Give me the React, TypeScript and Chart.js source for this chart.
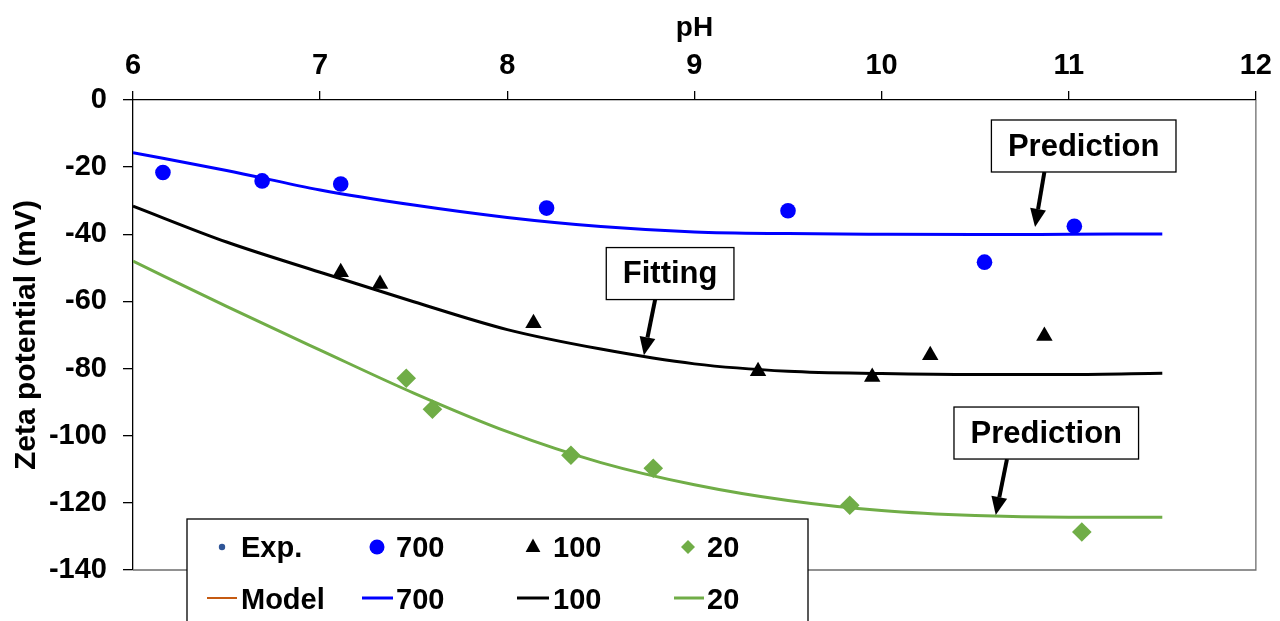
import React, { useEffect, useRef } from 'react';
import { Chart, registerables } from 'chart.js';

Chart.register(...registerables);

const FONT = '"Liberation Sans", Arial, Helvetica, sans-serif';

// Axis ticks
const phTicks = [6, 7, 8, 9, 10, 11, 12];
const zetaTicks = [0, -20, -40, -60, -80, -100, -120, -140];

// Experimental points
const exp700pH = [6.16, 6.69, 7.11, 8.21, 9.5, 10.55, 11.03];
const exp700Zeta = [-21.6, -24.1, -25.0, -32.2, -33.0, -48.3, -37.6];
const exp100pH = [7.11, 7.32, 8.14, 9.34, 9.95, 10.26, 10.87];
const exp100Zeta = [-51.3, -54.8, -66.5, -80.8, -82.5, -76.0, -70.3];
const exp20pH = [7.46, 7.6, 8.34, 8.78, 9.83, 11.07];
const exp20Zeta = [-82.9, -92.1, -105.8, -109.7, -120.7, -128.7];

// Model curves
const modelpH = [6, 6.5, 7, 7.5, 8, 8.5, 9, 9.5, 10, 10.5, 11, 11.5];
const model700 = [-15.7, -21.0, -26.8, -31.3, -35.0, -37.7, -39.3, -39.8, -40.0, -40.1, -40.0, -39.9];
const model100 = [-31.6, -42.3, -51.3, -60.1, -68.4, -74.2, -78.6, -80.8, -81.5, -81.8, -81.8, -81.4];
const model20 = [-48.0, -61.5, -74.5, -87.3, -98.8, -108.0, -114.6, -119.3, -122.3, -123.8, -124.3, -124.3];

// Legend
const legendRow1 = ['Exp.', '700', '100', '20'];
const legendRow2 = ['Model', '700', '100', '20'];

// Annotations (box centre and arrow tip in data units)
const annoText = ['Prediction', 'Fitting', 'Prediction'];
const annoBoxPH = [11.08, 8.87, 10.88];
const annoBoxZeta = [-13.7, -51.7, -99.2];
const annoFromPH = [10.87, 8.79, 10.67];
const annoTipPH = [10.82, 8.73, 10.61];
const annoTipZeta = [-37.8, -76.0, -123.6];

const BLUE = '#0000FF';
const BLACK = '#000000';
const GREEN = '#70AD47';
const NAVY = '#2F5597';
const ORANGE = '#C55A11';

const toXY = (xs: number[], ys: number[]) => xs.map((x, i) => ({ x, y: ys[i] }));

function drawArrow(ctx: CanvasRenderingContext2D, x1: number, y1: number, x2: number, y2: number) {
  const ang = Math.atan2(y2 - y1, x2 - x1);
  const headLen = 18;
  const headHalf = 8;
  const bx = x2 - Math.cos(ang) * headLen;
  const by = y2 - Math.sin(ang) * headLen;
  ctx.strokeStyle = '#000';
  ctx.lineWidth = 4;
  ctx.lineCap = 'butt';
  ctx.beginPath();
  ctx.moveTo(x1, y1);
  ctx.lineTo(bx, by);
  ctx.stroke();
  ctx.fillStyle = '#000';
  ctx.beginPath();
  ctx.moveTo(x2, y2);
  ctx.lineTo(bx + Math.sin(ang) * headHalf, by - Math.cos(ang) * headHalf);
  ctx.lineTo(bx - Math.sin(ang) * headHalf, by + Math.cos(ang) * headHalf);
  ctx.closePath();
  ctx.fill();
}

const overlayPlugin = {
  id: 'overlay',
  afterDatasetsDraw(chart: any) {
    const { ctx, chartArea: ca, scales } = chart;
    const xs = scales.x;
    const ys = scales.y;
    ctx.save();

    // right & bottom frame
    ctx.strokeStyle = '#6e6e6e';
    ctx.lineWidth = 1.3;
    ctx.beginPath();
    ctx.moveTo(ca.right, ca.top);
    ctx.lineTo(ca.right, ca.bottom);
    ctx.lineTo(ca.left, ca.bottom);
    ctx.stroke();

    // annotations
    ctx.font = `bold 31px ${FONT}`;
    for (let i = 0; i < annoText.length; i++) {
      const cx = xs.getPixelForValue(annoBoxPH[i]);
      const cy = ys.getPixelForValue(annoBoxZeta[i]);
      const tw = ctx.measureText(annoText[i]).width;
      const bw = tw + 33;
      const bh = 52;
      const left = cx - bw / 2;
      const top = cy - bh / 2;
      drawArrow(
        ctx,
        xs.getPixelForValue(annoFromPH[i]),
        top + bh,
        xs.getPixelForValue(annoTipPH[i]),
        ys.getPixelForValue(annoTipZeta[i])
      );
      ctx.fillStyle = '#fff';
      ctx.fillRect(left, top, bw, bh);
      ctx.strokeStyle = '#000';
      ctx.lineWidth = 1.3;
      ctx.strokeRect(left, top, bw, bh);
      ctx.fillStyle = '#000';
      ctx.textAlign = 'center';
      ctx.textBaseline = 'middle';
      ctx.fillText(annoText[i], cx, cy + 1);
    }

    // legend
    const lx = ca.left + 54;
    const ly = ca.bottom - 51;
    ctx.fillStyle = '#fff';
    ctx.fillRect(lx, ly, 621, 140);
    ctx.strokeStyle = '#000';
    ctx.lineWidth = 1.3;
    ctx.strokeRect(lx, ly, 621, 140);

    const markerX = [35, 190, 346, 501];
    const textX = [54, 209, 366, 520];
    const lineX0 = [20, 175, 330, 487];
    const lineX1 = [50, 206, 362, 517];
    const row1 = ly + 28;
    const row2 = ly + 80;
    const lineColors = [ORANGE, BLUE, BLACK, GREEN];

    // row 1 markers
    ctx.fillStyle = NAVY;
    ctx.beginPath();
    ctx.arc(lx + markerX[0], row1, 3.2, 0, Math.PI * 2);
    ctx.fill();
    ctx.fillStyle = BLUE;
    ctx.beginPath();
    ctx.arc(lx + markerX[1], row1, 7.5, 0, Math.PI * 2);
    ctx.fill();
    ctx.fillStyle = BLACK;
    ctx.beginPath();
    const tx = lx + markerX[2];
    ctx.moveTo(tx, row1 - 8.5);
    ctx.lineTo(tx + 7.4, row1 + 5);
    ctx.lineTo(tx - 7.4, row1 + 5);
    ctx.closePath();
    ctx.fill();
    ctx.fillStyle = GREEN;
    ctx.beginPath();
    const dx = lx + markerX[3];
    ctx.moveTo(dx, row1 - 7);
    ctx.lineTo(dx + 7, row1);
    ctx.lineTo(dx, row1 + 7);
    ctx.lineTo(dx - 7, row1);
    ctx.closePath();
    ctx.fill();

    // row 2 lines
    for (let i = 0; i < 4; i++) {
      ctx.strokeStyle = lineColors[i];
      ctx.lineWidth = i === 0 ? 2 : 3;
      ctx.beginPath();
      ctx.moveTo(lx + lineX0[i], row2 - 1);
      ctx.lineTo(lx + lineX1[i], row2 - 1);
      ctx.stroke();
    }

    ctx.fillStyle = '#000';
    ctx.font = `bold 29px ${FONT}`;
    ctx.textAlign = 'left';
    ctx.textBaseline = 'alphabetic';
    for (let i = 0; i < 4; i++) {
      ctx.fillText(legendRow1[i], lx + textX[i], row1 + 10);
      ctx.fillText(legendRow2[i], lx + textX[i], row2 + 10);
    }

    ctx.restore();
  },
};

export default function App() {
  const ref = useRef<HTMLCanvasElement | null>(null);

  useEffect(() => {
    if (!ref.current) return;
    const chart = new Chart(ref.current, {
      type: 'scatter',
      data: {
        datasets: [
          {
            label: 'Exp. 700',
            data: toXY(exp700pH, exp700Zeta),
            pointStyle: 'circle',
            pointRadius: 7.8,
            pointBorderWidth: 0,
            backgroundColor: BLUE,
            borderColor: BLUE,
            showLine: false,
          },
          {
            label: 'Exp. 100',
            data: toXY(exp100pH, exp100Zeta),
            pointStyle: 'triangle',
            pointRadius: 9.5,
            pointBorderWidth: 0,
            backgroundColor: BLACK,
            borderColor: BLACK,
            showLine: false,
          },
          {
            label: 'Exp. 20',
            data: toXY(exp20pH, exp20Zeta),
            pointStyle: 'rectRot',
            pointRadius: 9.8,
            pointBorderWidth: 0,
            backgroundColor: GREEN,
            borderColor: GREEN,
            showLine: false,
          },
          {
            label: 'Model 700',
            data: toXY(modelpH, model700),
            showLine: true,
            pointRadius: 0,
            borderColor: BLUE,
            borderWidth: 3,
            cubicInterpolationMode: 'monotone',
          },
          {
            label: 'Model 100',
            data: toXY(modelpH, model100),
            showLine: true,
            pointRadius: 0,
            borderColor: BLACK,
            borderWidth: 3,
            cubicInterpolationMode: 'monotone',
          },
          {
            label: 'Model 20',
            data: toXY(modelpH, model20),
            showLine: true,
            pointRadius: 0,
            borderColor: GREEN,
            borderWidth: 3,
            cubicInterpolationMode: 'monotone',
          },
        ] as any,
      },
      options: {
        responsive: false,
        animation: false,
        devicePixelRatio: 1,
        layout: { padding: { left: 0, top: 0, right: 21, bottom: 51 } },
        plugins: {
          legend: { display: false },
          tooltip: { enabled: false },
        },
        scales: {
          x: {
            type: 'linear',
            position: 'top',
            min: 6,
            max: 12,
            afterBuildTicks: (s: any) => {
              s.ticks = phTicks.map((v) => ({ value: v }));
            },
            afterFit: (s: any) => {
              s.height = 100;
            },
            ticks: {
              color: '#000',
              font: { family: FONT, size: 29, weight: 'bold' },
              padding: 8,
              maxRotation: 0,
            },
            grid: {
              drawOnChartArea: false,
              drawTicks: true,
              tickLength: 9,
              color: '#000',
              lineWidth: 1.3,
            },
            border: { display: true, color: '#000', width: 1.3 },
            title: {
              display: true,
              text: 'pH',
              color: '#000',
              font: { family: FONT, size: 28, weight: 'bold' },
              padding: { top: 11, bottom: 0 },
            },
          },
          y: {
            type: 'linear',
            min: -140,
            max: 0,
            afterBuildTicks: (s: any) => {
              s.ticks = zetaTicks.map((v) => ({ value: v }));
            },
            afterFit: (s: any) => {
              s.width = 133;
            },
            ticks: {
              color: '#000',
              font: { family: FONT, size: 29, weight: 'bold' },
              padding: 16,
            },
            grid: {
              drawOnChartArea: false,
              drawTicks: true,
              tickLength: 10,
              color: '#000',
              lineWidth: 1.3,
            },
            border: { display: true, color: '#000', width: 1.3 },
            title: {
              display: true,
              text: 'Zeta potential (mV)',
              color: '#000',
              font: { family: FONT, size: 30, weight: 'bold' },
              padding: { top: 9, bottom: 0 },
            },
          },
        },
      } as any,
      plugins: [overlayPlugin],
    });
    return () => chart.destroy();
  }, []);

  return (
    <div style={{ position: 'fixed', left: 0, top: 0, width: 1280, height: 621, background: '#fff' }}>
      <canvas ref={ref} width={1280} height={621} style={{ display: 'block', width: 1280, height: 621 }} />
    </div>
  );
}
